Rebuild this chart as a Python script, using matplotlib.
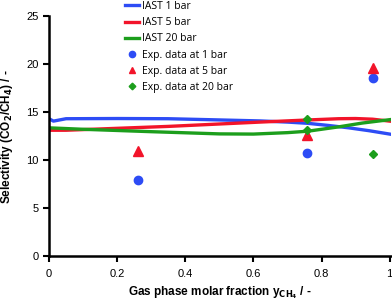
import matplotlib
matplotlib.use("Agg")
import matplotlib.pyplot as plt
import numpy as np

# IAST curves
iast1_x = [0, 0.013, 0.05, 0.2, 0.35, 0.47, 0.62, 0.70, 0.76, 0.82, 0.88, 0.94, 1.0]
iast1_y = [14.3, 14.05, 14.3, 14.32, 14.3, 14.2, 14.07, 13.95, 13.82, 13.6, 13.35, 13.05, 12.7]
iast5_x = [0, 0.05, 0.2, 0.35, 0.5, 0.62, 0.76, 0.85, 0.9, 0.95, 1.0]
iast5_y = [13.1, 13.1, 13.3, 13.5, 13.75, 13.95, 14.17, 14.3, 14.32, 14.25, 14.05]
iast20_x = [0, 0.1, 0.3, 0.5, 0.6, 0.7, 0.76, 0.85, 0.92, 1.0]
iast20_y = [13.35, 13.2, 12.95, 12.72, 12.7, 12.85, 13.0, 13.45, 13.85, 14.2]

# experimental points
exp1_x = [0.26, 0.757, 0.95]
exp1_y = [7.95, 10.7, 18.5]
exp5_x = [0.26, 0.757, 0.95]
exp5_y = [10.9, 12.6, 19.55]
exp20_x = [0.757, 0.757, 0.95]
exp20_y = [14.3, 13.1, 10.65]

blue = "#2d4cf5"
red = "#f2142a"
green = "#1c9e1c"

fig = plt.figure(figsize=(3.92, 3.02), dpi=100)
ax = fig.add_axes([49 / 392, 1 - 256 / 302, 342 / 392, 240 / 302])

ax.plot(iast1_x, iast1_y, color=blue, lw=2.4, label="IAST 1 bar")
ax.plot(iast5_x, iast5_y, color=red, lw=2.4, label="IAST 5 bar")
ax.plot(iast20_x, iast20_y, color=green, lw=2.4, label="IAST 20 bar")
ax.plot(exp1_x, exp1_y, "o", color=blue, ms=6, ls="none", label="Exp. data at 1 bar")
ax.plot(exp5_x, exp5_y, "^", color=red, ms=6.5, ls="none", label="Exp. data at 5 bar")
ax.plot(exp20_x, exp20_y, "D", color=green, ms=4.5, ls="none", label="Exp. data at 20 bar")

ax.set_xlim(0, 1.004)
ax.set_ylim(0, 25)
ax.set_xticks(np.arange(0, 1.01, 0.2))
ax.set_xticklabels(["0", "0.2", "0.4", "0.6", "0.8", "1"])
ax.set_yticks(range(0, 26, 5))

for s in ["top", "right"]:
    ax.spines[s].set_visible(False)
for s in ["left", "bottom"]:
    ax.spines[s].set_linewidth(1.8)
ax.tick_params(width=1.5, length=4.5, labelsize=8, colors="black",
               labelfontfamily="Liberation Sans", pad=3)
ax.tick_params(axis="x", pad=5)

fig.text(7.5 / 392, 1 - 137 / 302, "Selectivity (CO$_\\mathbf{2}$/CH$_\\mathbf{4}$) / -",
         rotation=90, ha="center", va="center", fontsize=8.5, fontweight="bold",
         fontfamily="Liberation Sans")
fig.text(220 / 392, 1 - 293 / 302, "Gas phase molar fraction y$_{\\mathbf{CH_4}}$ / -",
         ha="center", va="center", fontsize=8.5, fontweight="bold",
         fontfamily="Liberation Sans")

leg = ax.legend(loc="upper left", bbox_to_anchor=(125 / 392, 1 - 1 / 302),
                bbox_transform=fig.transFigure, frameon=False,
                prop={"family": "Open Sans", "size": 7.5},
                handlelength=1.35, handletextpad=0.3, labelspacing=0.5,
                markerscale=0.75, borderpad=0, borderaxespad=0)

fig.savefig("out.png", dpi=100)
